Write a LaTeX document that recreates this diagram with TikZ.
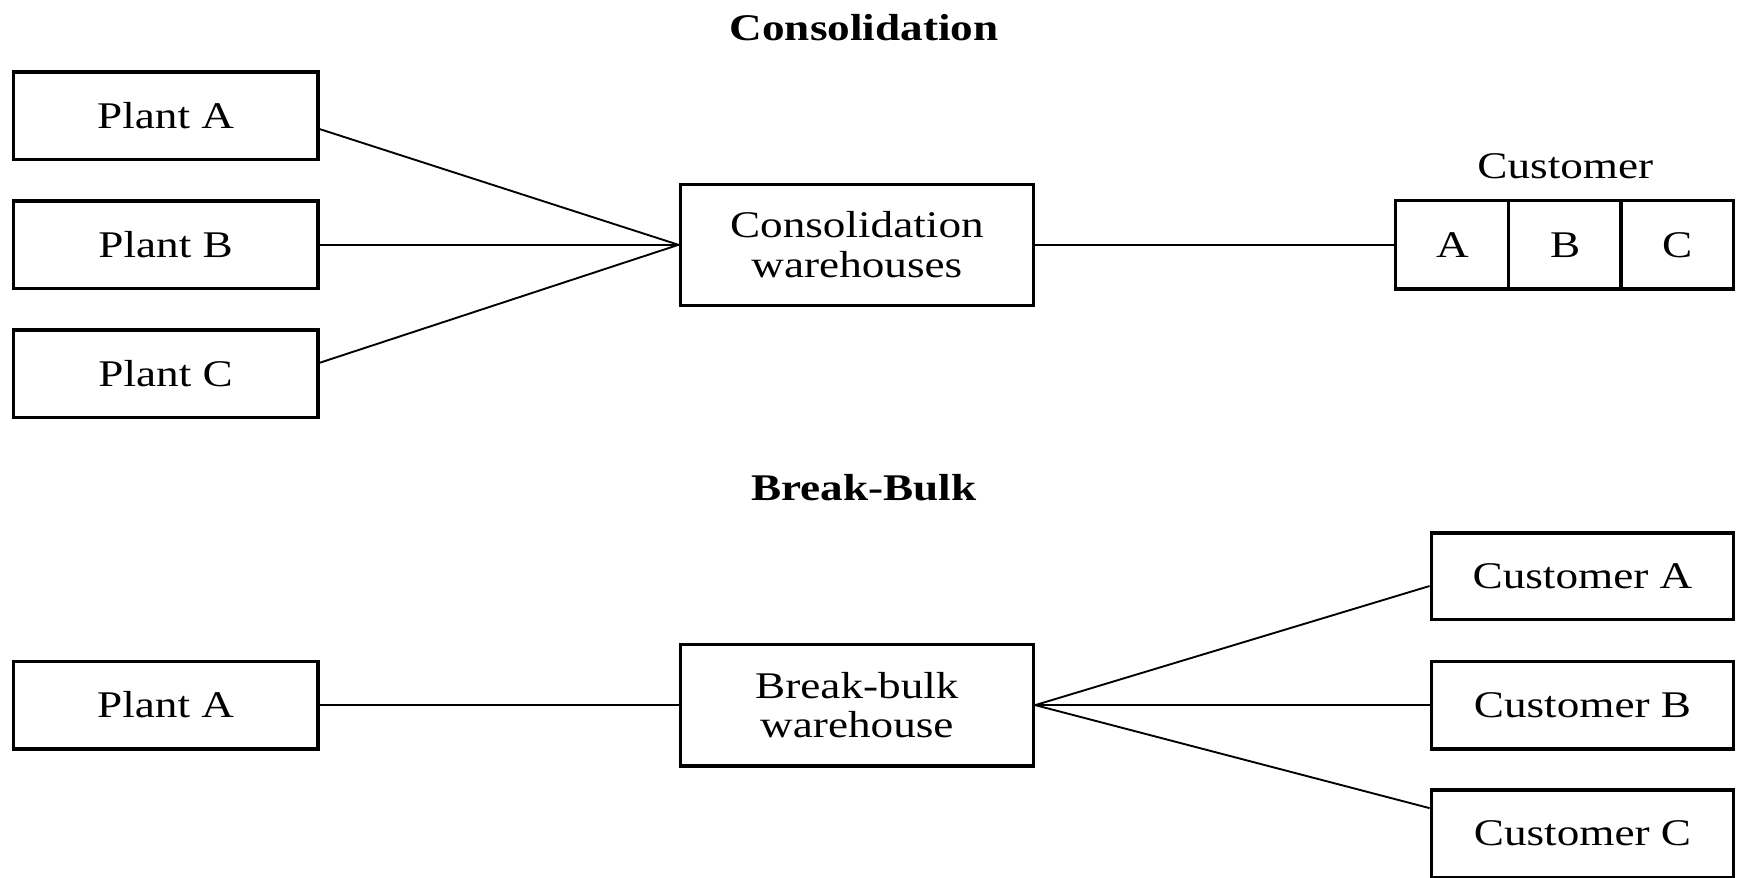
\documentclass[tikz,border=0pt]{standalone}
\usepackage{fontspec}
\setmainfont[FakeStretch=1.2]{Liberation Serif}
\begin{document}
\begin{tikzpicture}[x=1pt,y=-1pt,
  box/.style={draw, line width=3pt, minimum width=275pt, minimum height=79pt, inner sep=0pt, font=\fontsize{34}{40}\selectfont, align=center},
  wbox/.style={box, minimum width=319pt, minimum height=109pt},
  cell/.style={box, minimum width=102pt, minimum height=80pt},
  cbox/.style={box, minimum width=273pt, minimum height=78pt},
  conn/.style={line width=1.7pt},
  title/.style={font=\fontsize{34}{40}\selectfont\bfseries},
  lbl/.style={font=\fontsize{34}{40}\selectfont}]
\useasboundingbox[fill=white] (0,0) rectangle (1568,792);
% Consolidation
\node[title] (t1) at (780,25) {Consolidation};
\node[box] (pa) at (149.5,104.5) {Plant A};
\node[box] (pb) at (149.5,221) {Plant B};
\node[box] (pc) at (149.5,337.5) {Plant C};
\node[wbox] (cw) at (773.5,221) {Consolidation\\[-4pt]warehouses};
\node[cell] (ca) at (1311,221) {A};
\node[cell] (cb) at (1413,221) {B};
\node[cell] (cc) at (1514,221) {C};
\node[lbl] (cl) at (1413,150) {Customer};
\draw[conn] ([yshift=-12pt]pa.east) -- (cw.west);
\draw[conn] (pb.east) -- (cw.west);
\draw[conn] ([yshift=10pt]pc.east) -- (cw.west);
\draw[conn] (cw.east) -- (ca.west);
% Break-bulk
\node[title] (t2) at (780,440) {Break-Bulk};
\node[box] (pa2) at (149.5,636.5) {Plant A};
\node[wbox, minimum height=110pt] (bw) at (773.5,636.5) {Break-bulk\\[-4pt]warehouse};
\node[cbox] (cua) at (1428.5,520) {Customer A};
\node[cbox, minimum height=79pt] (cub) at (1428.5,636.5) {Customer B};
\node[cbox, minimum height=79pt] (cuc) at (1428.5,752.5) {Customer C};
\draw[conn] (pa2.east) -- (bw.west);
\draw[conn] (bw.east) -- ([yshift=-9pt]cua.west);
\draw[conn] (bw.east) -- (cub.west);
\draw[conn] (bw.east) -- ([yshift=23pt]cuc.west);
\end{tikzpicture}
\end{document}
